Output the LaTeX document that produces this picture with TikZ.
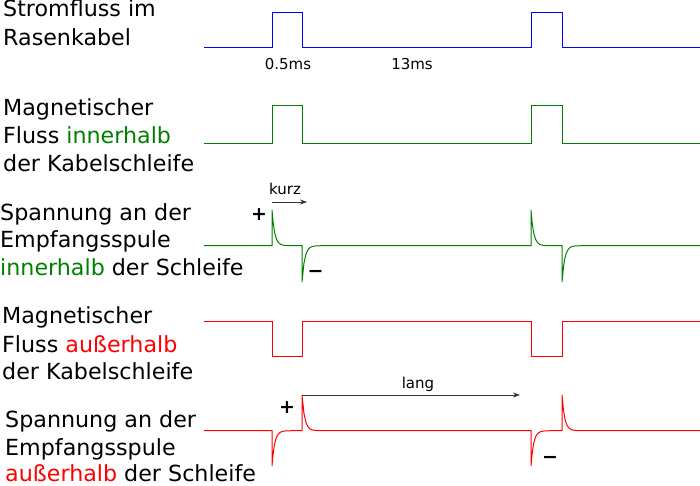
\documentclass[tikz,border=0pt]{standalone}
\usepackage{fontspec}
\setmainfont{DejaVu Sans}
\usetikzlibrary{arrows.meta}
\definecolor{sigblue}{RGB}{0,0,255}
\definecolor{siggreen}{RGB}{0,128,0}
\definecolor{sigred}{RGB}{255,0,0}
\tikzset{
  lbl/.style={anchor=base west, inner sep=0pt, font=\fontsize{22.2}{28}\selectfont},
  small/.style={anchor=base, inner sep=0pt, font=\fontsize{15}{18}\selectfont},
  sign/.style={anchor=base, inner sep=0pt, font=\fontsize{19}{22}\selectfont\bfseries},
  sig/.style={line width=1pt},
  marker/.style={line width=0.7pt, black!80, -{Stealth[length=7pt,width=5pt]}},
}
\begin{document}
\begin{tikzpicture}[x=1pt,y=-1pt]
\useasboundingbox (0,0) rectangle (700,485);
% labels
\node[lbl] (t1a) at (3,16.7) {Stromfluss im};
\node[lbl] (t1b) at (3,45) {Rasenkabel};
\node[lbl] (t2a) at (3,115) {Magnetischer};
\node[lbl] (t2b) at (3,143) {Fluss \textcolor{siggreen}{innerhalb}};
\node[lbl] (t2c) at (3,171) {der Kabelschleife};
\node[lbl] (t3a) at (0,220) {Spannung an der};
\node[lbl] (t3b) at (0,247) {Empfangsspule};
\node[lbl] (t3c) at (0,275) {\textcolor{siggreen}{innerhalb} der Schleife};
\node[lbl] (t4a) at (2,323) {Magnetischer};
\node[lbl] (t4b) at (2,352) {Fluss \textcolor{sigred}{außerhalb}};
\node[lbl] (t4c) at (2,379) {der Kabelschleife};
\node[lbl] (t5a) at (5,427.5) {Spannung an der};
\node[lbl] (t5b) at (5,455.5) {Empfangsspule};
\node[lbl] (t5c) at (5,481.5) {\textcolor{sigred}{außerhalb} der Schleife};
% row 1: current
\draw[sig, sigblue] (204,47.5) -- (272,47.5) -- (272,12.3) -- (302,12.3) -- (302,47.5)
  -- (531,47.5) -- (531,12.3) -- (562,12.3) -- (562,47.5) -- (700,47.5);
\node[small] (d1) at (288,69.3) {0.5ms};
\node[small] (d2) at (412,69.3) {13ms};
% row 2: flux inside
\draw[sig, siggreen] (204,143) -- (272,143) -- (272,105) -- (302,105) -- (302,143)
  -- (531,143) -- (531,105) -- (562,105) -- (562,143) -- (700,143);
% row 3: voltage inside
\draw[sig, siggreen] (204,245.7) -- (272,245.7) -- (272,210)
  -- plot[domain=0:30,samples=60] ({272+\x},{245.7-35.7*exp(-\x/2.7)})
  -- (302,282) -- plot[domain=0:229,samples=120] ({302+\x},{245.7+36.3*exp(-\x/2.7)})
  -- (531,210) -- plot[domain=0:31,samples=60] ({531+\x},{245.7-35.7*exp(-\x/2.7)})
  -- (562,282) -- plot[domain=0:138,samples=100] ({562+\x},{245.7+36.3*exp(-\x/2.7)});
\coordinate (k1) at (272,202);
\coordinate (k2) at (307,202);
\draw[marker] (k1) -- (k2);
\node[small] (kurz) at (285,194.5) {kurz};
\node[sign] (p1) at (259,220.5) {+};
\node[sign] (m1) at (315.5,277.5) {−};
% row 4: flux outside
\draw[sig, sigred] (204,321) -- (272,321) -- (272,356) -- (302,356) -- (302,321)
  -- (531,321) -- (531,356) -- (562,356) -- (562,321) -- (700,321);
% row 5: voltage outside
\draw[sig, sigred] (204,430.7) -- (272,430.7) -- (272,466)
  -- plot[domain=0:30,samples=60] ({272+\x},{430.7+35.3*exp(-\x/2.7)})
  -- (302,395) -- plot[domain=0:229,samples=120] ({302+\x},{430.7-35.7*exp(-\x/2.7)})
  -- (531,466) -- plot[domain=0:31,samples=60] ({531+\x},{430.7+35.3*exp(-\x/2.7)})
  -- (562,395) -- plot[domain=0:138,samples=100] ({562+\x},{430.7-35.7*exp(-\x/2.7)});
\coordinate (l1) at (302,395);
\coordinate (l2) at (520,395);
\draw[marker] (l1) -- (l2);
\node[small] (lang) at (418,388) {lang};
\node[sign] (p2) at (287,413.5) {+};
\node[sign] (m2) at (550,463.5) {−};
\end{tikzpicture}
\end{document}
